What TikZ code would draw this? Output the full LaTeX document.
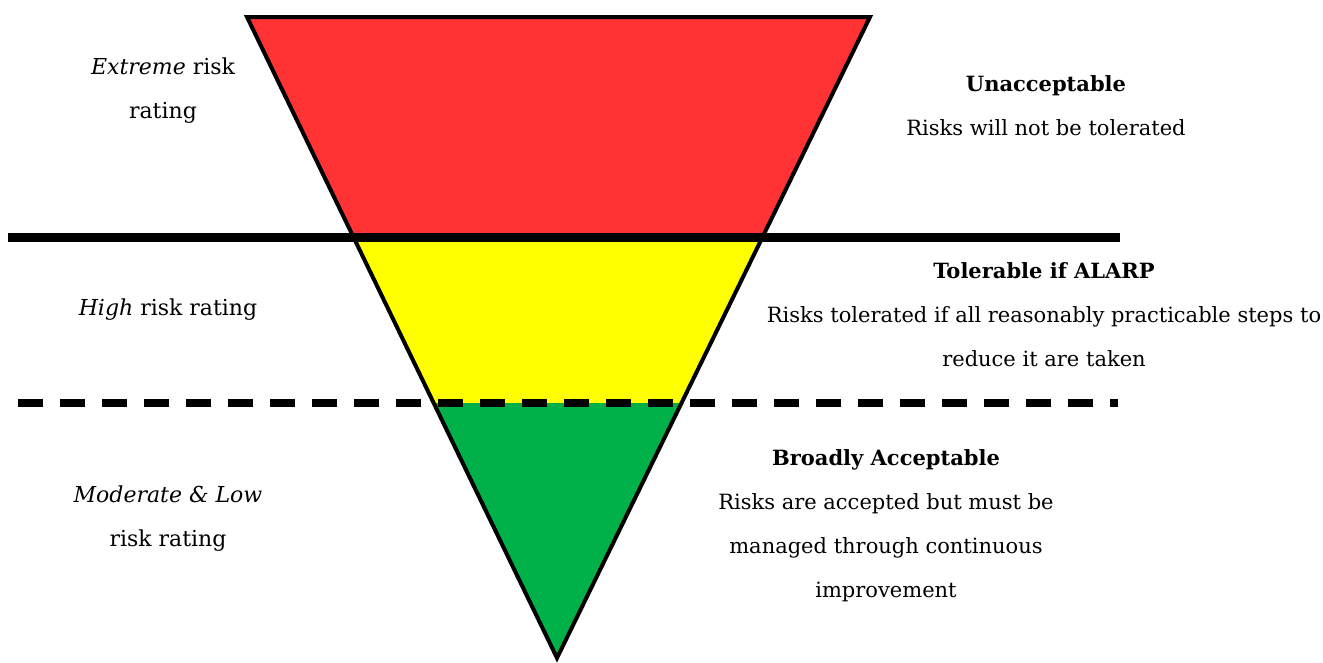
\documentclass[tikz,border=0pt]{standalone}
\usepackage{fontspec}
\setmainfont{DejaVu Serif}
\definecolor{riskred}{HTML}{FF3333}
\definecolor{riskyellow}{HTML}{FFFF00}
\definecolor{riskgreen}{HTML}{00B14A}
\begin{document}
\begin{tikzpicture}[x=1pt,y=-1pt,
  lbl/.style={align=center,font=\fontsize{21}{44}\selectfont,inner sep=0pt,text depth=0pt},
  leftlbl/.style={lbl,font=\fontsize{22}{44}\selectfont},
  edge/.style={line width=4pt,line join=miter,line cap=round}]
\useasboundingbox (0,0) rectangle (1323,662);
\coordinate (TL) at (247,17);
\coordinate (TR) at (870,17);
\coordinate (AP) at (557,658);
\coordinate (L1) at (353.4,237);
\coordinate (R1) at (762.6,237);
\coordinate (L2) at (433.7,403);
\coordinate (R2) at (681.5,403);
\fill[riskred] (TL) -- (TR) -- (R1) -- (L1) -- cycle;
\fill[riskyellow] (L1) -- (R1) -- (R2) -- (L2) -- cycle;
\fill[riskgreen] (L2) -- (R2) -- (AP) -- cycle;
\draw[edge] (TL) -- (TR) -- (AP) -- cycle;
\coordinate (S1) at (8,237);
\coordinate (S2) at (1120,237);
\coordinate (D1) at (18,403);
\coordinate (D2) at (1118,403);
\draw[line width=9pt] (S1) -- (S2);
\draw[line width=8pt,dash pattern=on 25pt off 17pt] (D1) -- (D2);
\node[leftlbl] (ext) at (163,88) {\textit{Extreme} risk\\rating};
\node[leftlbl] (high) at (168,307) {\textit{High} risk rating};
\node[leftlbl] (mod) at (168,516) {\textit{Moderate \& Low}\\risk rating};
\node[lbl] (unacc) at (1046,106) {\textbf{Unacceptable}\\Risks will not be tolerated};
\node[lbl] (tol) at (1044,315) {\textbf{Tolerable if ALARP}\\Risks tolerated if all reasonably practicable steps to\\reduce it are taken};
\node[lbl] (broad) at (886,524) {\textbf{Broadly Acceptable}\\Risks are accepted but must be\\managed through continuous\\improvement};
\end{tikzpicture}
\end{document}
